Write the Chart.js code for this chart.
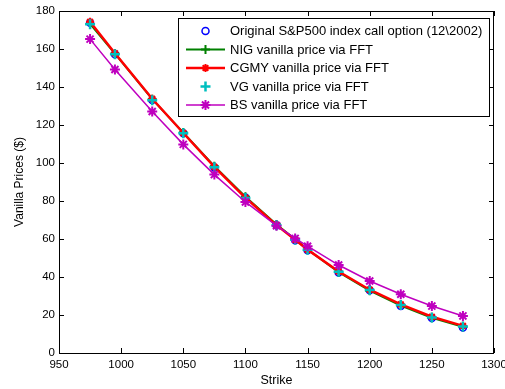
<!DOCTYPE html>
<html>
<head>
<meta charset="utf-8">
<script src="https://cdn.jsdelivr.net/npm/chart.js@4/dist/chart.umd.min.js"></script>
<style>
  html, body { margin: 0; padding: 0; background: #ffffff; }
  #wrap { width: 505px; height: 389px; position: relative; }
</style>
</head>
<body>
<div id="wrap"><canvas id="c" width="505" height="389"></canvas></div>
<script>
// ---- data ----
const strikes = [975, 995, 1025, 1050, 1075, 1100, 1125, 1140, 1150, 1175, 1200, 1225, 1250, 1275];
const original = [173.8, 157.3, 133.1, 115.6, 97.6, 81.8, 67.2, 59.4, 54.1, 42.4, 33.0, 24.8, 18.4, 13.4];
const nig      = [173.2, 157.6, 133.6, 116.0, 98.3, 82.2, 67.6, 59.8, 54.5, 42.6, 32.8, 25.0, 18.5, 13.8];
const cgmy     = [174.3, 157.8, 133.8, 115.8, 98.0, 81.7, 67.3, 59.6, 54.4, 42.9, 33.3, 25.6, 19.1, 14.3];
const vg       = [173.0, 157.2, 133.0, 115.6, 97.7, 81.6, 67.2, 59.6, 54.3, 42.7, 33.1, 25.3, 18.7, 14.0];
const bs       = [165.2, 149.2, 127.1, 109.8, 93.9, 79.5, 67.0, 60.3, 56.2, 46.3, 37.9, 30.9, 24.7, 19.5];
const seriesLabels = [
  'Original S&P500 index call option (12\\2002)',
  'NIG vanilla price via FFT',
  'CGMY vanilla price via FFT',
  'VG vanilla price via FFT',
  'BS vanilla price via FFT'
];
const xTicks = [950, 1000, 1050, 1100, 1150, 1200, 1250, 1300];
const yTicks = [0, 20, 40, 60, 80, 100, 120, 140, 160, 180];
const xTitle = 'Strike';
const yTitle = 'Vanilla Prices ($)';

const FONT = '"Liberation Sans", Arial, Helvetica, sans-serif';

function pts(vals) { return strikes.map((s, i) => ({ x: s, y: vals[i] })); }

const styles = [
  { color: '#0000ff', line: false, pointStyle: 'circle', r: 3.5, bw: 1.5, lw: 0, order: 5 },
  { color: '#008000', line: true,  pointStyle: 'cross',  r: 4.5, bw: 2,   lw: 2, order: 4 },
  { color: '#ff0000', line: true,  pointStyle: 'star',   r: 4,   bw: 2,   lw: 2.5, order: 3 },
  { color: '#00bfbf', line: false, pointStyle: 'cross',  r: 5,   bw: 2.5, lw: 0, order: 2 },
  { color: '#bf00bf', line: true,  pointStyle: 'star',   r: 5,   bw: 2,   lw: 1.5, order: 1 }
];
const allValues = [original, nig, cgmy, vg, bs];

const datasets = allValues.map((v, i) => {
  const s = styles[i];
  return {
    label: seriesLabels[i],
    data: pts(v),
    showLine: s.line,
    borderColor: s.color,
    backgroundColor: s.pointStyle === 'circle' ? 'rgba(0,0,0,0)' : s.color,
    borderWidth: s.lw,
    pointStyle: s.pointStyle,
    pointRadius: s.r,
    pointBorderWidth: s.bw,
    pointBorderColor: s.color,
    pointBackgroundColor: s.pointStyle === 'circle' ? 'rgba(0,0,0,0)' : s.color,
    pointHoverRadius: s.r,
    tension: 0,
    order: s.order
  };
});

function drawMarker(ctx, style, x, y, r, color, bw) {
  ctx.save();
  ctx.strokeStyle = color;
  ctx.lineWidth = bw;
  ctx.beginPath();
  if (style === 'circle') {
    ctx.arc(x, y, r, 0, Math.PI * 2);
  } else {
    ctx.moveTo(x - r, y); ctx.lineTo(x + r, y);
    ctx.moveTo(x, y - r); ctx.lineTo(x, y + r);
    if (style === 'star') {
      const d = r * Math.SQRT1_2;
      ctx.moveTo(x - d, y - d); ctx.lineTo(x + d, y + d);
      ctx.moveTo(x - d, y + d); ctx.lineTo(x + d, y - d);
    }
  }
  ctx.stroke();
  ctx.restore();
}

const framePlugin = {
  id: 'matlabFrame',
  afterDraw(chart) {
    const ctx = chart.ctx;
    const a = chart.chartArea;
    const xs = chart.scales.x, ys = chart.scales.y;
    ctx.save();
    ctx.strokeStyle = '#000';
    ctx.lineWidth = 1;
    // box
    ctx.strokeRect(Math.round(a.left) + 0.5, Math.round(a.top) + 0.5,
                   Math.round(a.right - a.left) - 1, Math.round(a.bottom - a.top));
    // inside ticks
    const tl = 5;
    ctx.beginPath();
    xTicks.forEach(v => {
      const px = Math.round(xs.getPixelForValue(v)) + 0.5;
      ctx.moveTo(px, a.bottom); ctx.lineTo(px, a.bottom - tl);
      ctx.moveTo(px, a.top); ctx.lineTo(px, a.top + tl);
    });
    yTicks.forEach(v => {
      const py = Math.round(ys.getPixelForValue(v)) + 0.5;
      ctx.moveTo(a.left, py); ctx.lineTo(a.left + tl, py);
      ctx.moveTo(a.right, py); ctx.lineTo(a.right - tl, py);
    });
    ctx.stroke();

    // legend box
    const lx = 178.5, ly = 18.5, lw = 311, lh = 98;
    ctx.fillStyle = '#fff';
    ctx.fillRect(lx, ly, lw, lh);
    ctx.strokeRect(lx, ly, lw, lh);
    const rowY = [31, 49.5, 68, 86.5, 105];
    ctx.font = '13px ' + FONT;
    ctx.textBaseline = 'middle';
    ctx.textAlign = 'left';
    styles.forEach((s, i) => {
      const y = rowY[i];
      if (s.line) {
        ctx.save();
        ctx.strokeStyle = s.color;
        ctx.lineWidth = s.lw;
        ctx.beginPath();
        ctx.moveTo(186, y); ctx.lineTo(225, y);
        ctx.stroke();
        ctx.restore();
      }
      drawMarker(ctx, s.pointStyle, 205.5, y, s.r, s.color, s.bw);
      ctx.fillStyle = '#000';
      ctx.fillText(seriesLabels[i], 230, y + 0.5);
    });
    ctx.restore();
  }
};

new Chart(document.getElementById('c'), {
  type: 'scatter',
  data: { datasets },
  options: {
    responsive: false,
    animation: false,
    devicePixelRatio: 1,
    layout: { padding: { top: 11, right: 11, left: 0, bottom: 0 } },
    plugins: { legend: { display: false }, tooltip: { enabled: false } },
    scales: {
      x: {
        type: 'linear', min: 950, max: 1300,
        afterBuildTicks: s => { s.ticks = xTicks.map(v => ({ value: v })); },
        afterFit: s => { s.height = 36; s.paddingLeft = 0; s.paddingRight = 0; },
        grid: { display: false, drawTicks: false },
        border: { display: false },
        ticks: { color: '#000', font: { family: FONT, size: 11.5 }, padding: 5, maxRotation: 0, autoSkip: false,
                 callback: v => String(v) },
        title: { display: true, text: xTitle, color: '#000', font: { family: FONT, size: 12.5 }, padding: { top: 0, bottom: 1 } }
      },
      y: {
        type: 'linear', min: 0, max: 180,
        afterBuildTicks: s => { s.ticks = yTicks.map(v => ({ value: v })); },
        afterFit: s => { s.width = 59; s.paddingTop = 0; s.paddingBottom = 0; },
        grid: { display: false, drawTicks: false },
        border: { display: false },
        ticks: { color: '#000', font: { family: FONT, size: 11.5 }, padding: 4, autoSkip: false,
                 callback: v => String(v) },
        title: { display: true, text: yTitle, color: '#000', font: { family: FONT, size: 12 }, padding: { top: 12, bottom: 0 } }
      }
    }
  },
  plugins: [framePlugin]
});
</script>
</body>
</html>
